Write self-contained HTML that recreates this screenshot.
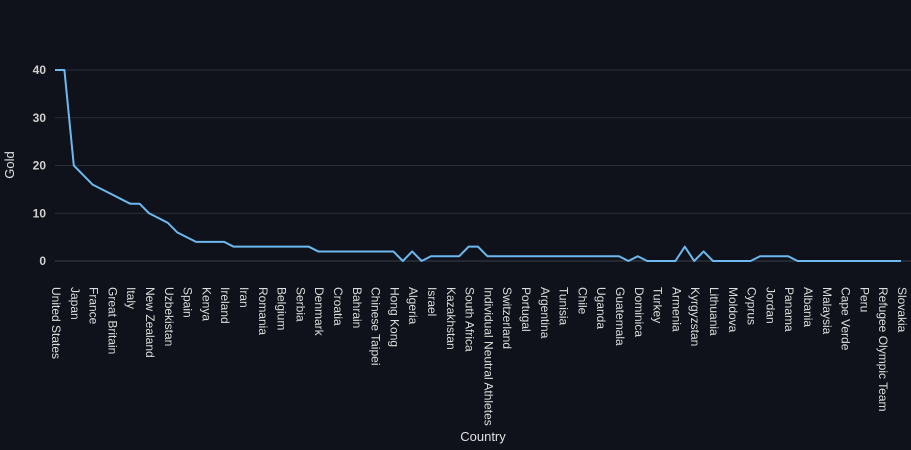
<!DOCTYPE html>
<html><head><meta charset="utf-8"><style>
html,body{margin:0;padding:0;background:#0f121a;}
svg{display:block;font-family:"Liberation Sans",sans-serif;}
</style></head><body>
<svg id="chart" width="911" height="450">
<rect width="911" height="450" fill="#0f121a"/>
<g id="grid"></g><g id="ylabels"></g><g id="xlabels"></g><g id="series"></g>
<text x="14" y="165" fill="#e0e0e0" font-size="13" text-anchor="middle" transform="rotate(-90 14 165)">Gold</text>
<text x="483" y="441" fill="#e0e0e0" font-size="13" text-anchor="middle">Country</text>
</svg>
<script>
const shownCountries = ["United States","Japan","France","Great Britain","Italy","New Zealand","Uzbekistan","Spain","Kenya","Ireland","Iran","Romania","Belgium","Serbia","Denmark","Croatia","Bahrain","Chinese Taipei","Hong Kong","Algeria","Israel","Kazakhstan","South Africa","Individual Neutral Athletes","Switzerland","Portugal","Argentina","Tunisia","Chile","Uganda","Guatemala","Dominica","Turkey","Armenia","Kyrgyzstan","Lithuania","Moldova","Cyprus","Jordan","Panama","Albania","Malaysia","Cape Verde","Peru","Refugee Olympic Team","Slovakia"];
const hiddenCountries = ["China","Australia","Netherlands","South Korea","Germany","Canada","Hungary","Sweden","Norway","Brazil","Ukraine","Georgia","Bulgaria","Czechia","Azerbaijan","Cuba","Slovenia","Austria","Philippines","Indonesia","Poland","Jamaica","Ethiopia","Thailand","Ecuador","Greece","Egypt","Botswana","Saint Lucia","Dominican Republic","Morocco","Pakistan","Mexico","Colombia","North Korea","India","Kosovo","Fiji","Mongolia","Tajikistan","Grenada","Puerto Rico","Ivory Coast","Qatar","Singapore"];
const goldValues = [40,40,20,18,16,15,14,13,12,12,10,9,8,6,5,4,4,4,4,3,
3,3,3,3,3,3,3,3,
2,2,2,2,2,2,2,2,2,
0,2,0,
1,1,1,1,
3,3,
1,1,1,1,1,1,1,1,1,1,1,1,1,1,1,
0,1,0,0,0,0,3,0,2,0,0,0,0,0,1,1,1,1,0,0,0,0,0,0,0,0,0,0,0,0];
const yTicks = [0,10,20,30,40];

const categories = [];
for (let i = 0; i < shownCountries.length; i++) {
  categories.push(shownCountries[i]);
  if (i < hiddenCountries.length) categories.push(hiddenCountries[i]);
}
const NS = "http://www.w3.org/2000/svg";
const x0 = 55, x1 = 901, yBase = 261, yTop = 70;
const xs = i => x0 + (x1 - x0) * i / (categories.length - 1);
const ys = v => yBase - (yBase - yTop) * v / 40;

const grid = document.getElementById('grid'), yl = document.getElementById('ylabels');
yTicks.forEach(t => {
  const l = document.createElementNS(NS, 'line');
  l.setAttribute('x1', x0); l.setAttribute('x2', 911);
  l.setAttribute('y1', ys(t)); l.setAttribute('y2', ys(t));
  l.setAttribute('stroke', t === 0 ? '#3a3d45' : '#2b2e36'); l.setAttribute('stroke-width', '1');
  
  
  grid.appendChild(l);
  const tx = document.createElementNS(NS, 'text');
  tx.setAttribute('x', 46); tx.setAttribute('y', ys(t) + 4);
  tx.setAttribute('fill', '#d0d0d0'); tx.setAttribute('font-size', '12'); tx.setAttribute('font-weight', 'bold');
  tx.setAttribute('text-anchor', 'end');
  tx.textContent = t;
  
  
  yl.appendChild(tx);
});

const xl = document.getElementById('xlabels');
categories.forEach((c, i) => {
  if (i % 2 !== 0) return;
  const tx = document.createElementNS(NS, 'text');
  const x = xs(i) - 3, y = 287;
  tx.setAttribute('x', x); tx.setAttribute('y', y);
  tx.setAttribute('transform', 'rotate(90 ' + x + ' ' + y + ')');
  tx.setAttribute('fill', '#dcdcdc'); tx.setAttribute('font-size', '12');
  tx.textContent = c;
  
  
  xl.appendChild(tx);
});

const path = document.createElementNS(NS, 'polyline');
path.setAttribute('points', goldValues.map((v, i) => xs(i) + ',' + ys(v)).join(' '));
path.setAttribute('fill', 'none'); path.setAttribute('stroke', '#6cb8ef'); path.setAttribute('stroke-width', '2');
path.setAttribute('stroke-linejoin', 'round');


document.getElementById('series').appendChild(path);
</script>
</body></html>
